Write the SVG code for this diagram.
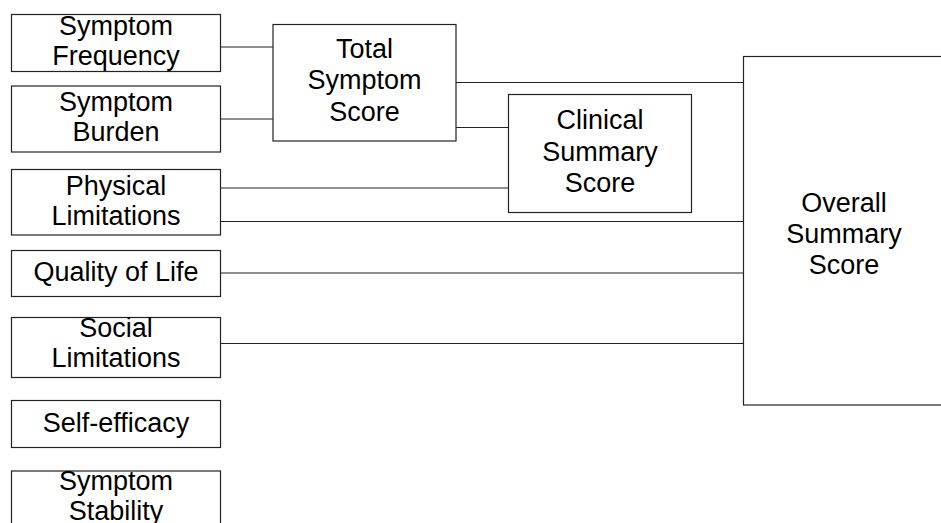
<svg xmlns="http://www.w3.org/2000/svg" width="941" height="523" viewBox="0 0 941 523">
<style>
rect{fill:#fff;stroke:#222;stroke-width:1.2}
line{stroke:#222;stroke-width:1.2}
text{font-family:"Liberation Sans",Arial,sans-serif;font-size:27px;fill:#000;text-anchor:middle}
</style>
<rect x="0" y="0" width="941" height="523" style="stroke:none"/>
<g id="connectors">
<line x1="221" y1="47" x2="273" y2="47"/>
<line x1="221" y1="119" x2="273" y2="119"/>
<line x1="456" y1="82.5" x2="744" y2="82.5"/>
<line x1="456" y1="127.5" x2="508" y2="127.5"/>
<line x1="221" y1="188" x2="508" y2="188"/>
<line x1="221" y1="221.5" x2="744" y2="221.5"/>
<line x1="221" y1="273" x2="744" y2="273"/>
<line x1="221" y1="343.5" x2="744" y2="343.5"/>
</g>
<g id="symptom-frequency"><rect x="11.5" y="14.5" width="209" height="57"/><text x="116" y="35">Symptom</text><text x="116" y="65">Frequency</text></g>
<g id="symptom-burden"><rect x="11.5" y="86" width="209" height="66"/><text x="116" y="111">Symptom</text><text x="116" y="141">Burden</text></g>
<g id="physical-limitations"><rect x="11.5" y="169.5" width="209" height="65.5"/><text x="116" y="195">Physical</text><text x="116" y="225">Limitations</text></g>
<g id="quality-of-life"><rect x="11.5" y="250.5" width="209" height="46"/><text x="116" y="281">Quality of Life</text></g>
<g id="social-limitations"><rect x="11.5" y="317.5" width="209" height="60"/><text x="116" y="337">Social</text><text x="116" y="367">Limitations</text></g>
<g id="self-efficacy"><rect x="11.5" y="400.5" width="209" height="47"/><text x="116" y="432">Self-efficacy</text></g>
<g id="symptom-stability"><rect x="11.5" y="471" width="209" height="60"/><text x="116" y="490">Symptom</text><text x="116" y="520">Stability</text></g>
<g id="total-symptom-score"><rect x="273" y="24.5" width="183" height="116.5"/><text x="364.5" y="58">Total</text><text x="364.5" y="89">Symptom</text><text x="364.5" y="121">Score</text></g>
<g id="clinical-summary-score"><rect x="508.5" y="94.5" width="183" height="118"/><text x="600" y="129">Clinical</text><text x="600" y="161">Summary</text><text x="600" y="192">Score</text></g>
<g id="overall-summary-score"><rect x="743.5" y="56.5" width="205" height="348.5"/><text x="844" y="212">Overall</text><text x="844" y="243">Summary</text><text x="844" y="274">Score</text></g>
</svg>
